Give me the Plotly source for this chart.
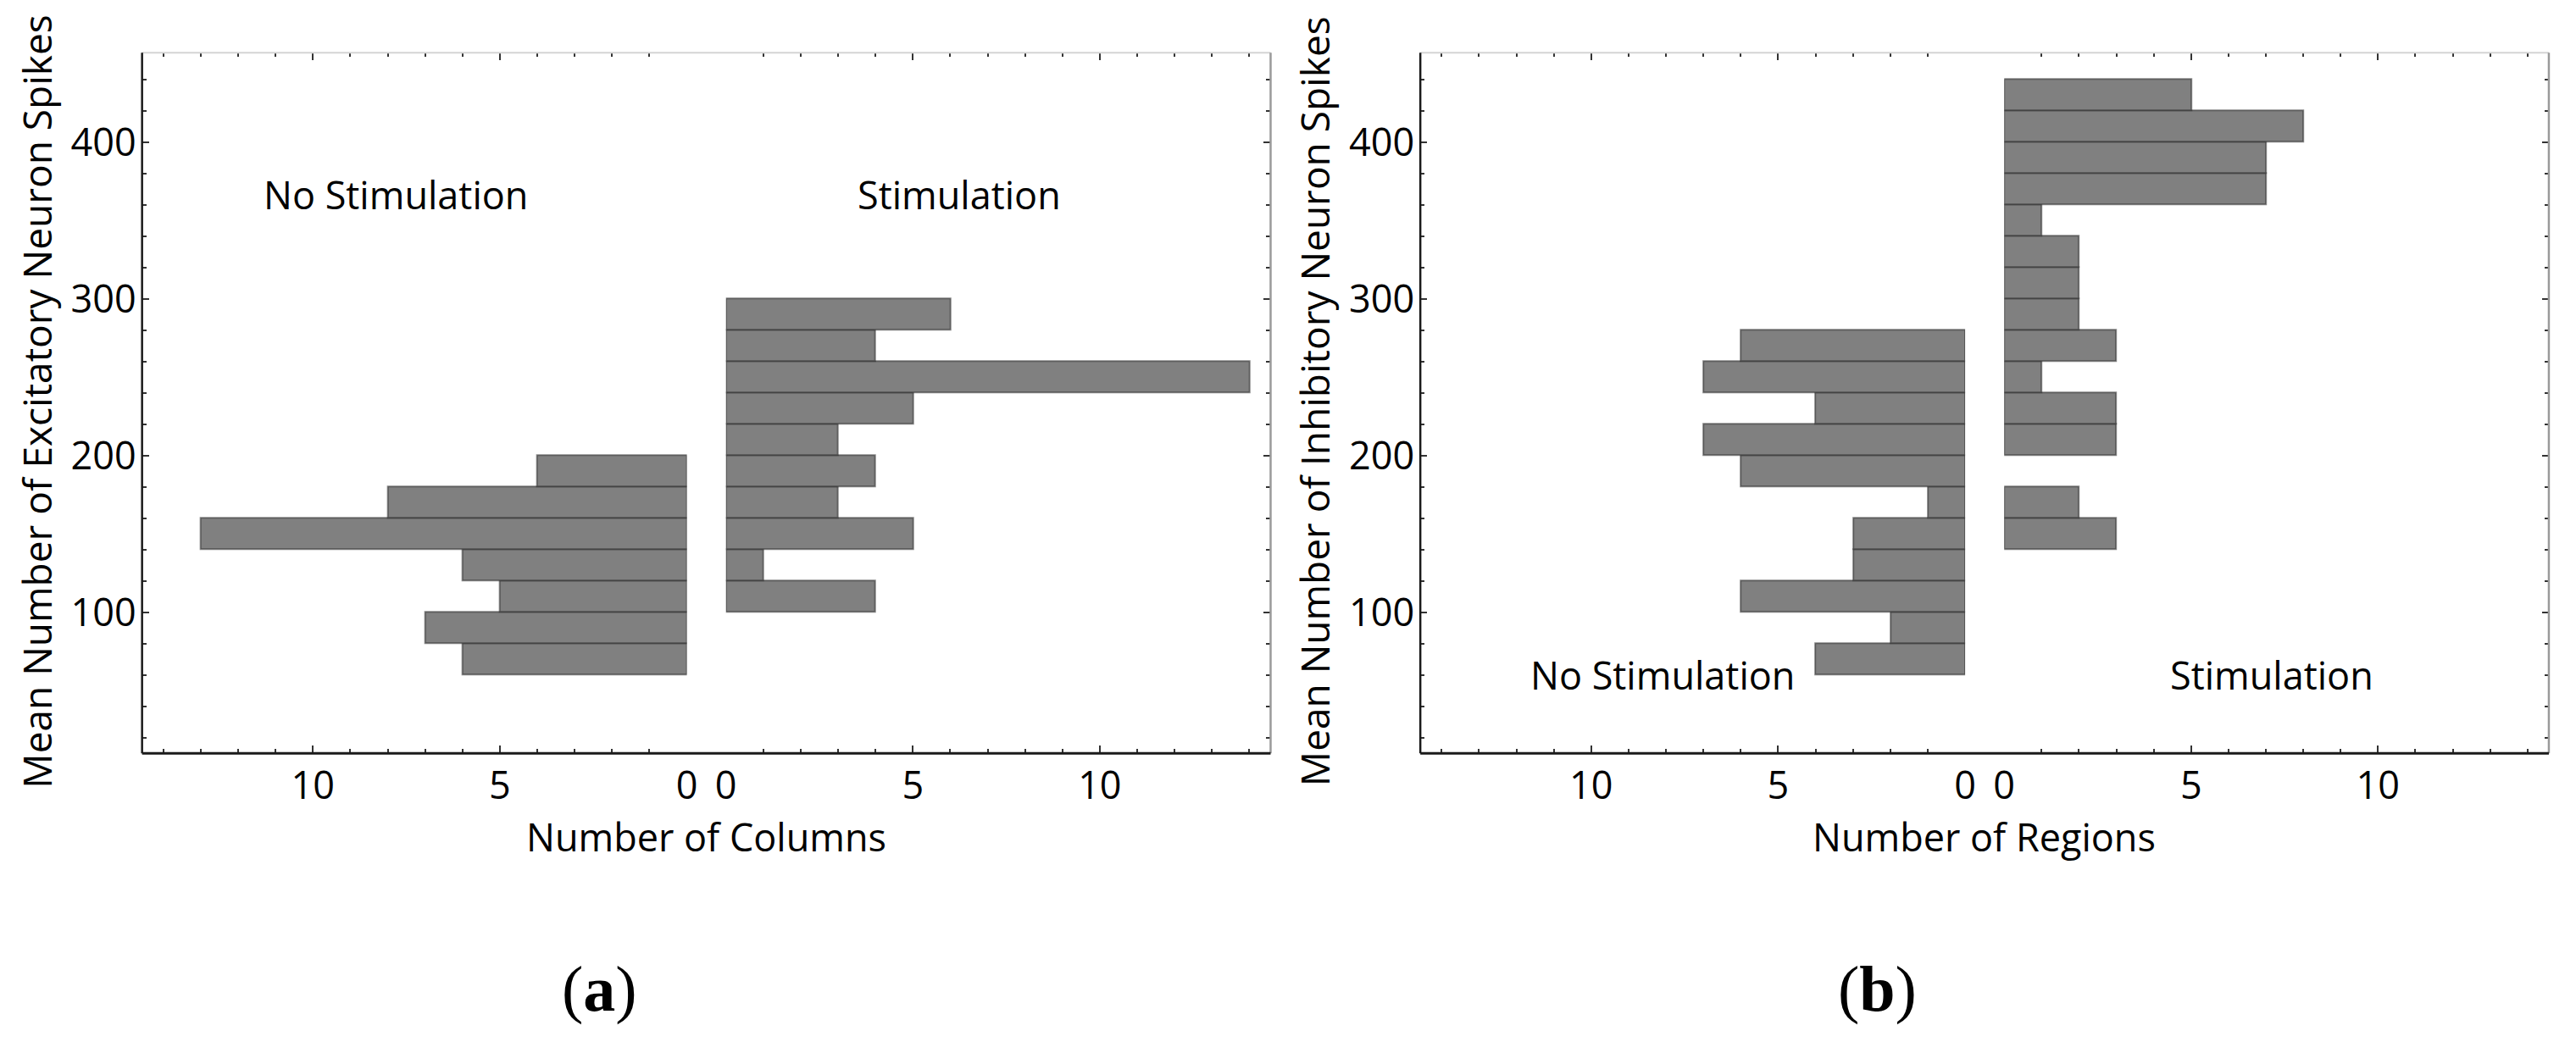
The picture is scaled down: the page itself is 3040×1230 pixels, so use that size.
import plotly.graph_objects as go

# ---------------- data ----------------
BIN = 20
# panel (a): excitatory spikes, number of columns
exc_nostim_edges = [60, 80, 100, 120, 140, 160, 180]
exc_nostim_counts = [6, 7, 5, 6, 13, 8, 4]
exc_stim_edges = [100, 120, 140, 160, 180, 200, 220, 240, 260, 280]
exc_stim_counts = [4, 1, 5, 3, 4, 3, 5, 14, 4, 6]
# panel (b): inhibitory spikes, number of regions
inh_nostim_edges = [60, 80, 100, 120, 140, 160, 180, 200, 220, 240, 260]
inh_nostim_counts = [4, 2, 6, 3, 3, 1, 6, 7, 4, 7, 6]
inh_stim_edges = [140, 160, 180, 200, 220, 240, 260, 280, 300, 320, 340, 360, 380, 400, 420]
inh_stim_counts = [3, 2, 0, 3, 3, 1, 3, 2, 2, 2, 1, 7, 7, 8, 5]

x_ticks = [0, 5, 10]
y_ticks = [100, 200, 300, 400]
X_MAX = 14.57
Y_RANGE = [10, 457]

# ---------------- layout geometry (pixels) ----------------
W, H = 3040, 1230
FONT = "Open Sans"
TOP, BOT = 62.3, 889.3
panels = [
    dict(L=156.0, Z1=804.5, Z2=851.0, R=1499.3),
    dict(L=1677.5, Z1=2326.0, Z2=2372.5, R=3020.8),
]


def fx(p):
    return p / W


def fy(p):
    return 1 - p / H


fig = go.Figure()

BAR_FILL = "#808080"
BAR_LINE = "rgba(40,40,40,0.55)"


def add_hist(edges, counts, xa, ya):
    ys = [e + BIN / 2 for e, c in zip(edges, counts) if c > 0]
    xs = [c for c in counts if c > 0]
    fig.add_trace(go.Bar(
        x=xs, y=ys, orientation="h", width=BIN, base=0,
        marker=dict(color=BAR_FILL, line=dict(color=BAR_LINE, width=2)),
        xaxis=xa, yaxis=ya, hoverinfo="skip", showlegend=False,
    ))


add_hist(exc_nostim_edges, exc_nostim_counts, "x", "y")
add_hist(exc_stim_edges, exc_stim_counts, "x2", "y2")
add_hist(inh_nostim_edges, inh_nostim_counts, "x3", "y3")
add_hist(inh_stim_edges, inh_stim_counts, "x4", "y4")

tickfont = dict(family=FONT, size=45, color="black")
TICKC = "#333333"


def xaxis_cfg(d0, d1, reverse, anchor):
    return dict(
        domain=[fx(d0), fx(d1)],
        range=[X_MAX, 0] if reverse else [0, X_MAX],
        tickmode="array", tickvals=x_ticks, ticktext=[str(v) for v in x_ticks],
        ticks="inside", ticklen=9, tickwidth=2, tickcolor=TICKC,
        minor=dict(dtick=1, tick0=0, ticks="inside", ticklen=5, tickwidth=2, tickcolor=TICKC),
        mirror="ticks", showline=False, showgrid=False, zeroline=False,
        tickfont=tickfont, anchor=anchor, ticklabelposition="outside",
        ticklabelstandoff=8,
    )


def yaxis_cfg(anchor, side, labels):
    return dict(
        domain=[fy(BOT), fy(TOP)], range=Y_RANGE,
        tickmode="array", tickvals=y_ticks, ticktext=[str(v) for v in y_ticks],
        ticks="inside", ticklen=8, tickwidth=2, tickcolor=TICKC,
        minor=dict(dtick=20, tick0=0, ticks="inside", ticklen=5, tickwidth=2, tickcolor=TICKC),
        showline=False, showgrid=False, zeroline=False,
        showticklabels=labels, tickfont=tickfont, anchor=anchor, side=side,
        ticklabelposition="outside", ticklabelstandoff=6,
    )


lay = {}
for i, p in enumerate(panels):
    a = 2 * i + 1
    b = 2 * i + 2
    na = "" if a == 1 else str(a)
    nb = str(b)
    lay["xaxis" + na] = xaxis_cfg(p["L"], p["Z1"], True, "y" + na)
    lay["xaxis" + nb] = xaxis_cfg(p["Z2"], p["R"], False, "y" + nb)
    lay["yaxis" + na] = yaxis_cfg("x" + na, "left", True)
    lay["yaxis" + nb] = yaxis_cfg("x" + nb, "right", False)

shapes = []
for p in panels:
    # top (light), right (gray), bottom & left (black)
    shapes.append(dict(type="line", xref="paper", yref="paper", x0=fx(p["L"]), x1=fx(p["R"]),
                       y0=fy(TOP), y1=fy(TOP), line=dict(color="#d4d4d4", width=2)))
    shapes.append(dict(type="line", xref="paper", yref="paper", x0=fx(p["R"]), x1=fx(p["R"]),
                       y0=fy(BOT), y1=fy(TOP), line=dict(color="#9a9a9a", width=2.5)))
    shapes.append(dict(type="line", xref="paper", yref="paper", x0=fx(p["L"]), x1=fx(p["R"]),
                       y0=fy(BOT), y1=fy(BOT), line=dict(color="#1a1a1a", width=3)))
    shapes.append(dict(type="line", xref="paper", yref="paper", x0=fx(p["L"]), x1=fx(p["L"]),
                       y0=fy(BOT), y1=fy(TOP), line=dict(color="#1a1a1a", width=2.5)))

txt = dict(family=FONT, size=45, color="black")
ytxt = dict(family=FONT, size=46, color="black")
C = dict(xanchor="center", yanchor="middle", showarrow=False)
annotations = [
    # in-plot labels
    dict(text="No Stimulation", x=7.79, y=366.6, xref="x", yref="y", font=txt, **C),
    dict(text="Stimulation", x=6.25, y=366.6, xref="x2", yref="y2", font=txt, **C),
    dict(text="No Stimulation", x=8.09, y=60, xref="x3", yref="y3", font=txt, **C),
    dict(text="Stimulation", x=7.16, y=60, xref="x4", yref="y4", font=txt, **C),
    # axis titles
    dict(text="Number of Columns", x=fx(827.5), y=fy(987), xref="paper", yref="paper",
         font=txt, **C),
    dict(text="Number of Regions", x=fx(2348.5), y=fy(987), xref="paper", yref="paper",
         font=txt, **C),
    dict(text="Mean Number of Excitatory Neuron Spikes", x=fx(30), y=fy(474), xref="paper",
         yref="paper", font=ytxt, textangle=-90, **C),
    dict(text="Mean Number of Inhibitory Neuron Spikes", x=fx(30 + 1521.5), y=fy(474), xref="paper",
         yref="paper", font=ytxt, textangle=-90, **C),
    # panel labels
    dict(text="(<b>a</b>)", x=fx(700), y=fy(1167), xref="paper", yref="paper",
         font=dict(family="Liberation Serif", size=76, color="black"), **C),
    dict(text="(<b>b</b>)", x=fx(2222), y=fy(1167), xref="paper", yref="paper",
         font=dict(family="Liberation Serif", size=76, color="black"), **C),
]

fig.update_layout(
    width=W, height=H, margin=dict(l=0, r=0, t=0, b=0),
    paper_bgcolor="white", plot_bgcolor="white",
    bargap=0, showlegend=False, shapes=shapes, annotations=annotations,
    **lay,
)

fig.write_html("out.html")
